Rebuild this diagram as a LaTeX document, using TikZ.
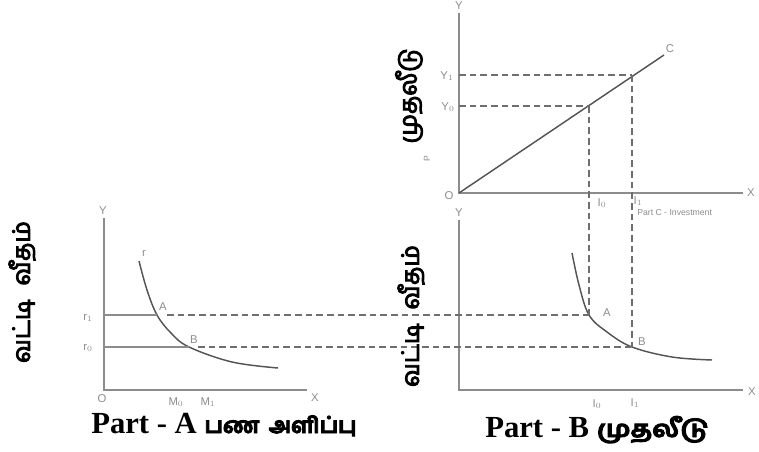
\documentclass[tikz,border=0pt]{standalone}
\usepackage{fontspec}
\usepackage{graphicx}
\setmainfont{Liberation Serif}
\newfontfamily\tamil[Script=Tamil, FakeBold=4]{Hind Madurai}
\newfontfamily\lab{Liberation Sans}
\definecolor{axisc}{RGB}{140,140,140}
\definecolor{curvec}{RGB}{85,85,85}
\definecolor{dashc}{RGB}{110,110,110}
\definecolor{labc}{RGB}{140,140,140}
\tikzset{
  axisline/.style={draw=axisc, line width=1.5pt},
  curveline/.style={draw=curvec, line width=1.1pt},
  dashline/.style={draw=dashc, line width=1pt, dash pattern=on 5pt off 3pt},
  solidline/.style={draw=axisc, line width=1.4pt},
  smalllab/.style={text=labc, font=\lab\fontsize{8.5}{9}\selectfont, inner sep=0pt},
  tinylab/.style={text=labc, font=\lab\fontsize{6.5}{7}\selectfont, inner sep=0pt},
  title/.style={font=\bfseries\fontsize{23}{26}\selectfont, inner sep=0pt, anchor=base west},
  vtamil/.style={font=\tamil\fontsize{18}{20}\selectfont, rotate=90, inner sep=0pt}
}
\begin{document}
\begin{tikzpicture}[x=0.75pt,y=-0.75pt]
\useasboundingbox (0,0) rectangle (759,452);
% ---------- Part A ----------
\coordinate (aO) at (104,390);
\coordinate (aYt) at (104,218);
\coordinate (aXr) at (307,390);
\node[smalllab] (aY) at (103,211) {Y};
\node[smalllab] (aX) at (315,398) {X};
\node[smalllab] (aOl) at (102,399) {O};
\draw[axisline] (aYt) -- (aO) -- (aXr);
\coordinate (aA) at (157,315);
\coordinate (aB) at (189,347);
\draw[curveline] plot[smooth, tension=0.6] coordinates {(139,261) (147,290) (157,315) (171,333) (189,347) (232,362) (278,368)};
\node[smalllab] (ar) at (144,253) {r};
\node[smalllab] (ar1) at (88,318) {r$_{1}$};
\node[smalllab] (ar0) at (88,348) {r$_{0}$};
\node[smalllab] (aAl) at (163,307) {A};
\node[smalllab] (aBl) at (194,340) {B};
\node[smalllab] (aM0) at (176,402) {M$_{0}$};
\node[smalllab] (aM1) at (208,402) {M$_{1}$};
\draw[solidline] (aO |- aA) -- (aA);
\draw[solidline] (aO |- aB) -- (aB);
% ---------- Upper panel (Part C) ----------
\coordinate (cO) at (459,193);
\coordinate (cYt) at (459,13);
\coordinate (cXr) at (743,193);
\node[smalllab] (cY) at (459,6) {Y};
\node[smalllab] (cX) at (751,193) {X};
\node[smalllab] (cOl) at (449,196) {O};
\draw[axisline] (cYt) -- (cO) -- (cXr);
\coordinate (cC) at (664,55);
\draw[curveline] (cO) -- (cC);
\node[smalllab] (cCl) at (670,49) {C};
\coordinate (cP1) at (632,75);
\coordinate (cP0) at (589,106);
\node[smalllab] (cY1) at (447,76) {Y$_{1}$};
\node[smalllab] (cY0) at (448,107) {Y$_{0}$};
\draw[dashline] (cO |- cP1) -- (cP1);
\draw[dashline] (cO |- cP0) -- (cP0);
\node[smalllab] (cI0) at (602,203) {I$_{0}$};
\node[smalllab] (cI1) at (638,201) {I$_{1}$};
\node[tinylab, anchor=west] (cPart) at (637,213) {Part C - Investment};
\node[tinylab, rotate=90] (cPp) at (427,159) {P};
% ---------- Part B ----------
\coordinate (bO) at (459,390);
\coordinate (bYt) at (459,220);
\coordinate (bXr) at (743,390);
\node[smalllab] (bY) at (459,213) {Y};
\node[smalllab] (bX) at (752,392) {X};
\draw[axisline] (bYt) -- (bO) -- (bXr);
\coordinate (bA) at (589,315);
\coordinate (bB) at (632,347);
\draw[curveline] plot[smooth, tension=0.6] coordinates {(572,253) (579,285) (589,315) (607,332) (632,347) (672,357) (712,360)};
\node[smalllab] (bAl) at (607,313) {A};
\node[smalllab] (bBl) at (642,342) {B};
\node[smalllab] (bI0) at (597,404) {I$_{0}$};
\node[smalllab] (bI1) at (635,403) {I$_{1}$};
% ---------- Connecting dashed lines ----------
\draw[dashline] (aAl.east |- aA) -- (bA);
\draw[dashline] (aBl.east |- aB) -- (bB);
\draw[dashline] (cP0) -- (bA);
\draw[dashline] (cP1) -- (bB);
% ---------- Titles ----------
\node[title] (tA) at (91,433) {Part - A {\tamil\fontsize{16.5}{18}\selectfont பண\hspace{3pt} அளிப்பு}};
\node[title] (tB) at (485,437) {Part - B {\tamil\fontsize{16.5}{18}\selectfont\scalebox{1.22}[1.05]{முதலீடு}}};
\node[vtamil] (vA) at (22,292) {வட்டி\hspace{6pt} வீதம்};
\node[vtamil] (vB) at (411,316) {வட்டி\hspace{6pt} வீதம்};
\node[vtamil] (vC) at (409,96) {முதலீடு};
\end{tikzpicture}
\end{document}
